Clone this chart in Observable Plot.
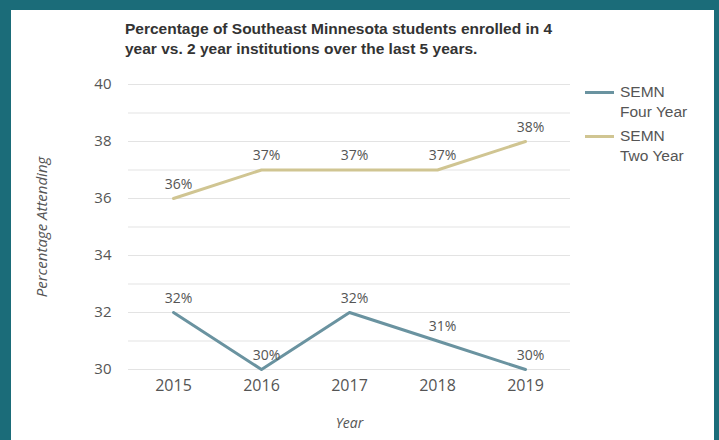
<!DOCTYPE html>
<html>
<head>
<meta charset="utf-8">
<script src="https://cdn.jsdelivr.net/npm/d3@7"></script>
<script src="https://cdn.jsdelivr.net/npm/@observablehq/plot@0.6"></script>
<style>
  html, body { margin: 0; padding: 0; }
  body { width: 719px; height: 440px; background: #1b6c79; position: relative; overflow: hidden; }
  #panel { position: absolute; left: 11px; top: 10px; width: 703px; height: 430px; background: #fff; }
  #title { position: absolute; left: 125px; top: 19px; font: bold 15.5px "Liberation Sans", Arial, sans-serif; color: #333; line-height: 20px; white-space: nowrap; }
  #chart { position: absolute; left: 0; top: 60px; }
  #legend { position: absolute; left: 585px; top: 82px; font: 15.5px "Liberation Sans", Arial, sans-serif; color: #555; }
  .item { position: relative; height: 44px; }
  .sw { position: absolute; left: 0; top: 9px; width: 29px; height: 3px; }
  .lab { position: absolute; left: 35px; top: 0; line-height: 20px; white-space: nowrap; }
</style>
</head>
<body>
<div id="panel"></div>
<div id="title">Percentage of Southeast Minnesota students enrolled in 4<br>year vs. 2 year institutions over the last 5 years.</div>
<div id="chart"></div>
<div id="legend"></div>
<script>
const years = ["2015", "2016", "2017", "2018", "2019"];
const seriesNames = ["SEMN Four Year", "SEMN Two Year"];
const fourYear = [32, 30, 32, 31, 30];
const twoYear = [36, 37, 37, 37, 38];
const colors = ["#6a93a0", "#d0c592"];
const yTicks = [30, 32, 34, 36, 38, 40];
const gridValues = [30, 31, 32, 33, 34, 35, 36, 37, 38, 39, 40];

const data = [];
years.forEach((y, i) => {
  data.push({year: y, value: fourYear[i], series: seriesNames[0]});
  data.push({year: y, value: twoYear[i], series: seriesNames[1]});
});

const font = '"Open Sans", sans-serif';

const plot = Plot.plot({
  width: 719,
  height: 380,
  marginLeft: 128,
  marginRight: 149,
  marginTop: 24,
  marginBottom: 71,
  style: {fontFamily: font, background: "transparent", overflow: "visible"},
  x: {type: "point", domain: years, padding: 0.5, label: null},
  y: {domain: [30, 40], label: null},
  color: {domain: seriesNames, range: colors},
  marks: [
    Plot.gridY(gridValues, {stroke: "#e3e3e3", strokeOpacity: 1, strokeWidth: 1}),
    Plot.axisY(yTicks, {tickSize: 0, tickPadding: 17, fontSize: 15, fill: "#555", label: null}),
    Plot.axisX({tickSize: 0, tickPadding: 10, fontSize: 16, fill: "#555", label: null}),
    Plot.lineY(data, {x: "year", y: "value", z: "series", stroke: "series", strokeWidth: 3, curve: "linear"}),
    Plot.text(data, {x: "year", y: "value", text: d => d.value + "%", dx: 5, dy: -14, fontSize: 14, fill: "#555"}),
    Plot.text(["Percentage Attending"], {frameAnchor: "left", textAnchor: "middle", dx: -86, rotate: -90, fontSize: 15, fontStyle: "italic", fill: "#555"}),
    Plot.text(["Year"], {frameAnchor: "bottom", textAnchor: "middle", dy: 58, fontSize: 14, fontStyle: "italic", fill: "#555"})
  ]
});
document.getElementById("chart").appendChild(plot);

const legend = document.getElementById("legend");
seriesNames.forEach((name, i) => {
  const parts = name.split(" ");
  const item = document.createElement("div");
  item.className = "item";
  item.innerHTML = `<div class="sw" style="background:${colors[i]}"></div><div class="lab">${parts[0]}<br>${parts.slice(1).join(" ")}</div>`;
  legend.appendChild(item);
});
</script>
</body>
</html>
